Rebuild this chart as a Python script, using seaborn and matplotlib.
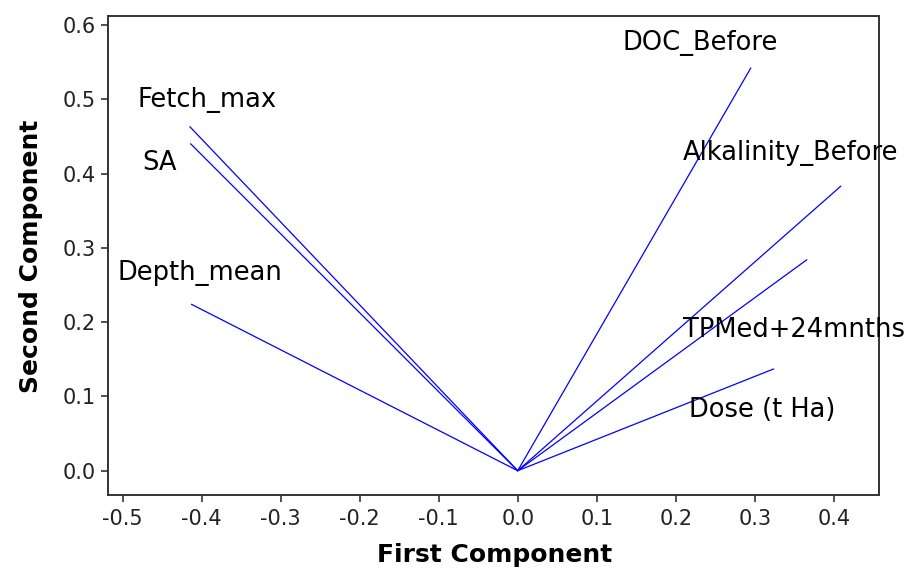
import numpy as np
import pandas as pd
import matplotlib
matplotlib.use("Agg")
import matplotlib.pyplot as plt
import seaborn as sns

# Data: PCA loadings (first, second component)
variables = ["Fetch_max", "SA", "Depth_mean", "DOC_Before",
             "Alkalinity_Before", "TPMed+24mnths", "Dose (t Ha)"]
first_comp = [-0.415, -0.414, -0.413, 0.295, 0.409, 0.366, 0.324]
second_comp = [0.463, 0.440, 0.224, 0.542, 0.383, 0.284, 0.137]

# Label anchor positions (left edge, vertical centre) in data coordinates
label_x = [-0.481, -0.475, -0.507, 0.133, 0.209, 0.209, 0.217]
label_y = [0.499, 0.414, 0.266, 0.576, 0.428, 0.189, 0.082]

x_ticks = [-0.5, -0.4, -0.3, -0.2, -0.1, 0.0, 0.1, 0.2, 0.3, 0.4]
y_ticks = [0.0, 0.1, 0.2, 0.3, 0.4, 0.5, 0.6]

rows = []
for v, fx, fy in zip(variables, first_comp, second_comp):
    rows.append({"var": v, "order": 0, "x": 0.0, "y": 0.0})
    rows.append({"var": v, "order": 1, "x": fx, "y": fy})
df = pd.DataFrame(rows)

sns.set_style("ticks")
plt.rcParams["font.family"] = ["DejaVu Sans"]

fig = plt.figure(figsize=(9.08, 5.73), dpi=100)
ax = fig.add_axes([108/908, 1-495/573, (879-108)/908, (495-16)/573])

sns.lineplot(data=df, x="x", y="y", units="var", estimator=None, sort=False,
             color="#0000ff", linewidth=0.9, ax=ax, legend=False)

for t, lx, ly in zip(variables, label_x, label_y):
    ax.text(lx, ly, t, fontsize=18.5, ha="left", va="center", color="black",
            clip_on=False)

ax.set_xlim(-0.5186, 0.4573)
ax.set_ylim(-0.0327, 0.612)
ax.set_xticks(x_ticks)
ax.set_xticklabels([f"{v:.1f}" for v in x_ticks])
ax.set_yticks(y_ticks)
ax.set_yticklabels([f"{v:.1f}" for v in y_ticks])
ax.tick_params(axis="both", labelsize=15, length=5, width=1.2, color="#333333",
               labelcolor="#222222", direction="out")
ax.tick_params(axis="x", pad=5)
for s in ax.spines.values():
    s.set_visible(True)
    s.set_linewidth(1.4)
    s.set_color("#333333")

ax.set_xlabel("First Component", fontsize=18, fontweight="bold", color="black")
ax.set_ylabel("Second Component", fontsize=18, fontweight="bold", color="black")
ax.xaxis.set_label_coords((495-108)/(879-108), -(543-495)/(495-16))
ax.yaxis.set_label_coords(-(108-43)/(879-108), (495-256)/(495-16))

fig.savefig("out.png", dpi=100)
